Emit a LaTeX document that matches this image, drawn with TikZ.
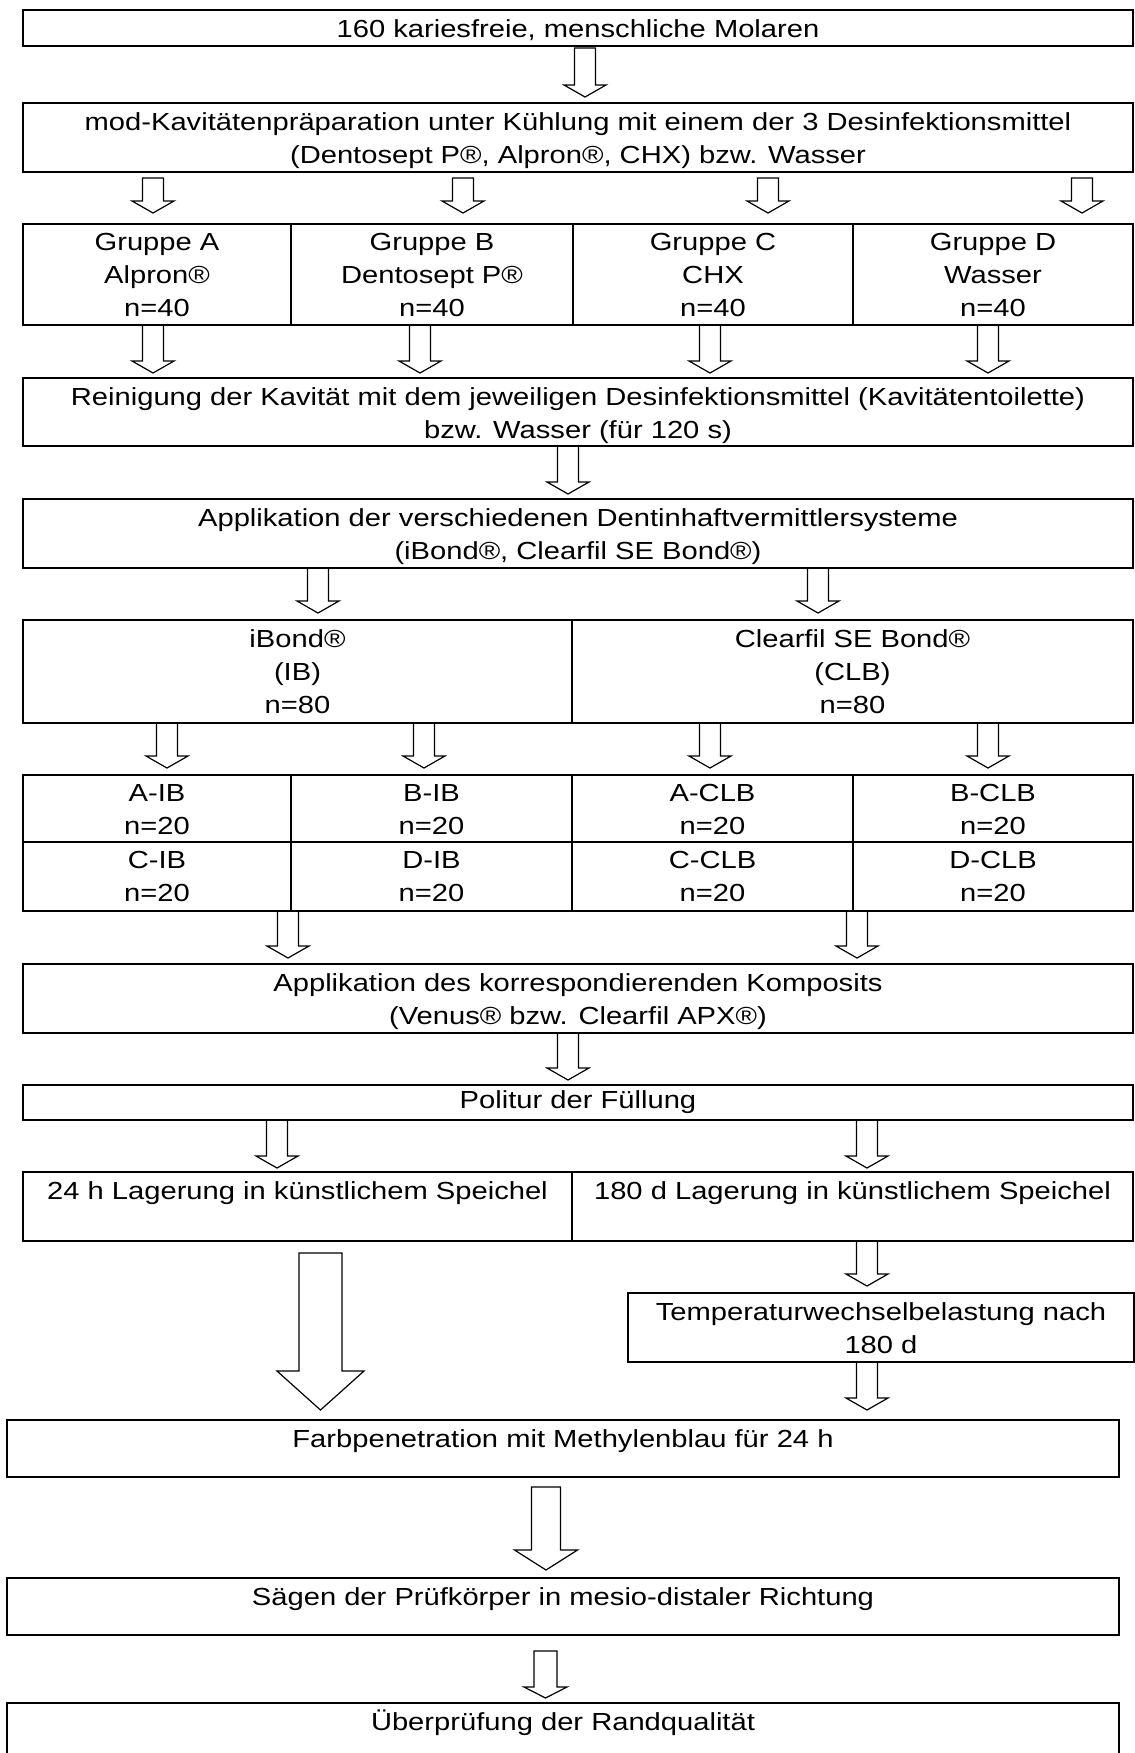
\documentclass[tikz,border=0pt]{standalone}
\usepackage{fontspec}
\setmainfont[FakeStretch=1.18]{Liberation Sans}
\usetikzlibrary{positioning, fit}

\newcommand{\fsize}{\fontsize{12.35pt}{16.5pt}\selectfont}
% block arrow: x, top, tip, half shaft, half head, head length
\newcommand{\blockarrow}[6]{%
  \draw[barrow] (#1-#4,#2) -- (#1+#4,#2) -- (#1+#4,#3-#6) -- (#1+#5,#3-#6)
    -- (#1,#3) -- (#1-#5,#3-#6) -- (#1-#4,#3-#6) -- cycle;}
\newcommand{\darrow}[3]{\blockarrow{#1}{#2}{#3}{10.5}{21}{12}}

\begin{document}
\begin{tikzpicture}[x=0.5pt, y=-0.5pt,
    box/.style={draw, line width=1pt, inner sep=0pt},
    txt/.style={inner sep=0pt, align=center, font=\fsize},
    barrow/.style={draw, line width=0.6pt, line join=miter}]
    \clip (0,0) rectangle (1135,1753);

    \node[box, fit={(23,10) (1133,46)}] (mol) {};
    \node[txt, below=5pt of mol.north] {160 kariesfreie, menschliche Molaren};

    \node[box, fit={(23,103) (1133,172)}] (prep) {};
    \node[txt, below=5pt of prep.north] {mod-Kavitätenpräparation unter Kühlung mit einem der 3 Desinfektionsmittel\\(Dentosept P®, Alpron®, CHX) bzw. Wasser};

    \node[box, fit={(23,224) (291,325)}] (ga) {};
    \node[txt, below=5pt of ga.north] {Gruppe A\\Alpron®\\n=40};
    \node[box, fit={(291,224) (573,325)}] (gb) {};
    \node[txt, below=5pt of gb.north] {Gruppe B\\Dentosept P®\\n=40};
    \node[box, fit={(573,224) (853,325)}] (gc) {};
    \node[txt, below=5pt of gc.north] {Gruppe C\\CHX\\n=40};
    \node[box, fit={(853,224) (1133,325)}] (gd) {};
    \node[txt, below=5pt of gd.north] {Gruppe D\\Wasser\\n=40};

    \node[box, fit={(23,378) (1133,446)}] (rein) {};
    \node[txt, below=5pt of rein.north] {Reinigung der Kavität mit dem jeweiligen Desinfektionsmittel (Kavitätentoilette)\\bzw. Wasser (für 120 s)};

    \node[box, fit={(23,499) (1133,568)}] (dhv) {};
    \node[txt, below=5pt of dhv.north] {Applikation der verschiedenen Dentinhaftvermittlersysteme\\(iBond®, Clearfil SE Bond®)};

    \node[box, fit={(23,620) (572,723)}] (ib) {};
    \node[txt, below=5pt of ib.north] {iBond®\\(IB)\\n=80};
    \node[box, fit={(572,620) (1133,723)}] (clb) {};
    \node[txt, below=5pt of clb.north] {Clearfil SE Bond®\\(CLB)\\n=80};

    \node[box, fit={(23,775) (291,842)}] (aib) {};
    \node[txt, below=5pt of aib.north] {A-IB\\n=20};
    \node[box, fit={(291,775) (572,842)}] (bib) {};
    \node[txt, below=5pt of bib.north] {B-IB\\n=20};
    \node[box, fit={(572,775) (853,842)}] (aclb) {};
    \node[txt, below=5pt of aclb.north] {A-CLB\\n=20};
    \node[box, fit={(853,775) (1133,842)}] (bclb) {};
    \node[txt, below=5pt of bclb.north] {B-CLB\\n=20};
    \node[box, fit={(23,842) (291,911)}] (cib) {};
    \node[txt, below=5pt of cib.north] {C-IB\\n=20};
    \node[box, fit={(291,842) (572,911)}] (dib) {};
    \node[txt, below=5pt of dib.north] {D-IB\\n=20};
    \node[box, fit={(572,842) (853,911)}] (cclb) {};
    \node[txt, below=5pt of cclb.north] {C-CLB\\n=20};
    \node[box, fit={(853,842) (1133,911)}] (dclb) {};
    \node[txt, below=5pt of dclb.north] {D-CLB\\n=20};

    \node[box, fit={(23,964) (1133,1033)}] (komp) {};
    \node[txt, below=5pt of komp.north] {Applikation des korrespondierenden Komposits\\(Venus® bzw. Clearfil APX®)};

    \node[box, fit={(23,1085) (1133,1120)}] (pol) {};
    \node[txt, below=3pt of pol.north] {Politur der Füllung};

    \node[box, fit={(23,1172) (572,1241)}] (lag24) {};
    \node[txt, below=5pt of lag24.north] {24 h Lagerung in künstlichem Speichel};
    \node[box, fit={(572,1172) (1133,1241)}] (lag180) {};
    \node[txt, below=5pt of lag180.north] {180 d Lagerung in künstlichem Speichel};

    \node[box, fit={(628,1293) (1134,1362)}] (tw) {};
    \node[txt, below=5pt of tw.north] {Temperaturwechselbelastung nach\\180 d};

    \node[box, fit={(7,1420) (1119,1477)}] (farb) {};
    \node[txt, below=5pt of farb.north] {Farbpenetration mit Methylenblau für 24 h};

    \node[box, fit={(7,1578) (1119,1635)}] (saeg) {};
    \node[txt, below=5pt of saeg.north] {Sägen der Prüfkörper in mesio-distaler Richtung};

    \node[box, fit={(7,1703) (1119,1770)}] (rand) {};
    \node[txt, below=3.5pt of rand.north] {Überprüfung der Randqualität};

    \darrow{585}{48}{97}
    \foreach \x in {153,463,768,1082} {\darrow{\x}{178}{213}}
    \foreach \x in {153,420,710,988} {\darrow{\x}{325}{373}}
    \darrow{568}{446}{494}
    \darrow{318}{568}{613}
    \darrow{818}{568}{613}
    \foreach \x in {167,424,710,988} {\darrow{\x}{723}{768}}
    \darrow{288}{911}{958}
    \darrow{857}{911}{958}
    \darrow{568}{1033}{1080}
    \darrow{277}{1120}{1168}
    \darrow{867}{1120}{1168}
    \darrow{867}{1241}{1286}
    \blockarrow{320.5}{1253}{1410}{21.5}{43.5}{39}
    \darrow{867}{1362}{1410}
    \blockarrow{546}{1487}{1570}{14.5}{31.5}{20}
    \blockarrow{545.5}{1651}{1698}{11.5}{21.5}{11}
\end{tikzpicture}
\end{document}
